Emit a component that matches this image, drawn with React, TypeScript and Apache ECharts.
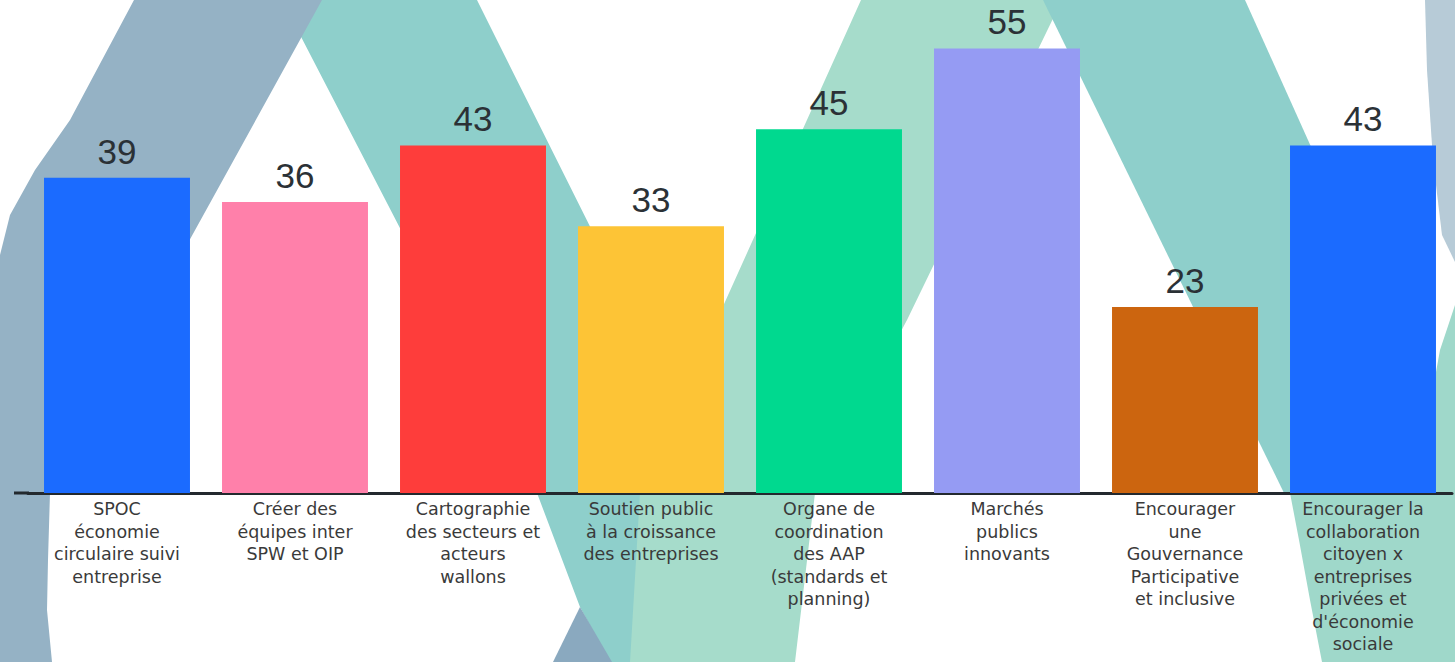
import React, { useEffect, useRef } from "react";
import * as echarts from "echarts";

const categories = [
  "SPOC\néconomie\ncirculaire suivi\nentreprise",
  "Créer des\néquipes inter\nSPW et OIP",
  "Cartographie\ndes secteurs et\nacteurs\nwallons",
  "Soutien public\nà la croissance\ndes entreprises",
  "Organe de\ncoordination\ndes AAP\n(standards et\nplanning)",
  "Marchés\npublics\ninnovants",
  "Encourager\nune\nGouvernance\nParticipative\net inclusive",
  "Encourager la\ncollaboration\ncitoyen x\nentreprises\nprivées et\nd'économie\nsociale",
];
const values = [39, 36, 43, 33, 45, 55, 23, 43];
const barColors = ["#1b6bff", "#ff80aa", "#fe3d3b", "#fdc436", "#00d98f", "#959bf3", "#cc650f", "#1b6bff"];

const GRAY = "#95b2c5";
const TEAL = "#8ecfcb";
const LGREEN = "#a6dccb";

function poly(points: number[][], fill: string) {
  return { type: "polygon", z: -10, silent: true, shape: { points }, style: { fill } };
}

export default function App() {
  const ref = useRef<HTMLDivElement>(null);
  useEffect(() => {
    document.body.style.margin = "0";
    const chart = echarts.init(ref.current!, null, { renderer: "svg" });
    chart.setOption({
      animation: false,
      backgroundColor: "#ffffff",
      grid: { left: 28, right: 3, top: 8, bottom: 169, containLabel: false },
      graphic: [
        poly([[282, 0], [477, 0], [723, 493], [720, 662], [610, 662], [580, 607], [537, 493]], TEAL),
        poly([[580, 607], [612, 662], [553, 662]], "#8aa9bf"),
        poly([[861, 0], [1062, 0], [907, 320], [815, 493], [795, 662], [630, 662], [640, 493], [720, 313]], LGREEN),
        poly([[1043, 0], [1245, 0], [1455, 467], [1455, 493], [1284, 493]], TEAL),
        poly([[134, 0], [322, 0], [50, 493], [48, 560], [47, 610], [52, 662], [0, 662], [0, 255], [10, 215], [35, 170], [70, 120]], GRAY),
        poly([[1425, 0], [1455, 0], [1455, 262], [1442, 235], [1433, 160], [1427, 70]], "#b7cbd7"),
        poly([[1455, 305], [1440, 350], [1436, 372], [1290, 480], [1290, 493], [1299, 540], [1310, 600], [1322, 662], [1455, 662]], "#9fd8ca"),
        { type: "line", z: 10, silent: true, shape: { x1: 14, y1: 493, x2: 29, y2: 493 }, style: { stroke: "#23292e", lineWidth: 3 } },
      ],
      xAxis: {
        type: "category",
        data: categories,
        axisLine: { show: true, lineStyle: { color: "#23292e", width: 3 } },
        axisTick: { show: false },
        axisLabel: {
          interval: 0,
          margin: 5,
          color: "#3a3a3a",
          fontFamily: "DejaVu Sans",
          fontSize: 17.5,
          lineHeight: 22.5,
          align: "center",
        },
      },
      yAxis: {
        type: "value",
        min: 0,
        max: 60,
        show: false,
        splitLine: { show: false },
      },
      series: [
        {
          type: "bar",
          data: values.map((v, i) => ({ value: v, itemStyle: { color: barColors[i] } })),
          barWidth: "82%",
          label: {
            show: true,
            position: "top",
            distance: 9,
            color: "#2b3136",
            fontFamily: "Liberation Sans",
            fontSize: 35,
          },
        },
      ],
    });
    return () => chart.dispose();
  }, []);
  return <div ref={ref} style={{ position: "absolute", left: 0, top: 0, width: 1455, height: 662 }} />;
}
